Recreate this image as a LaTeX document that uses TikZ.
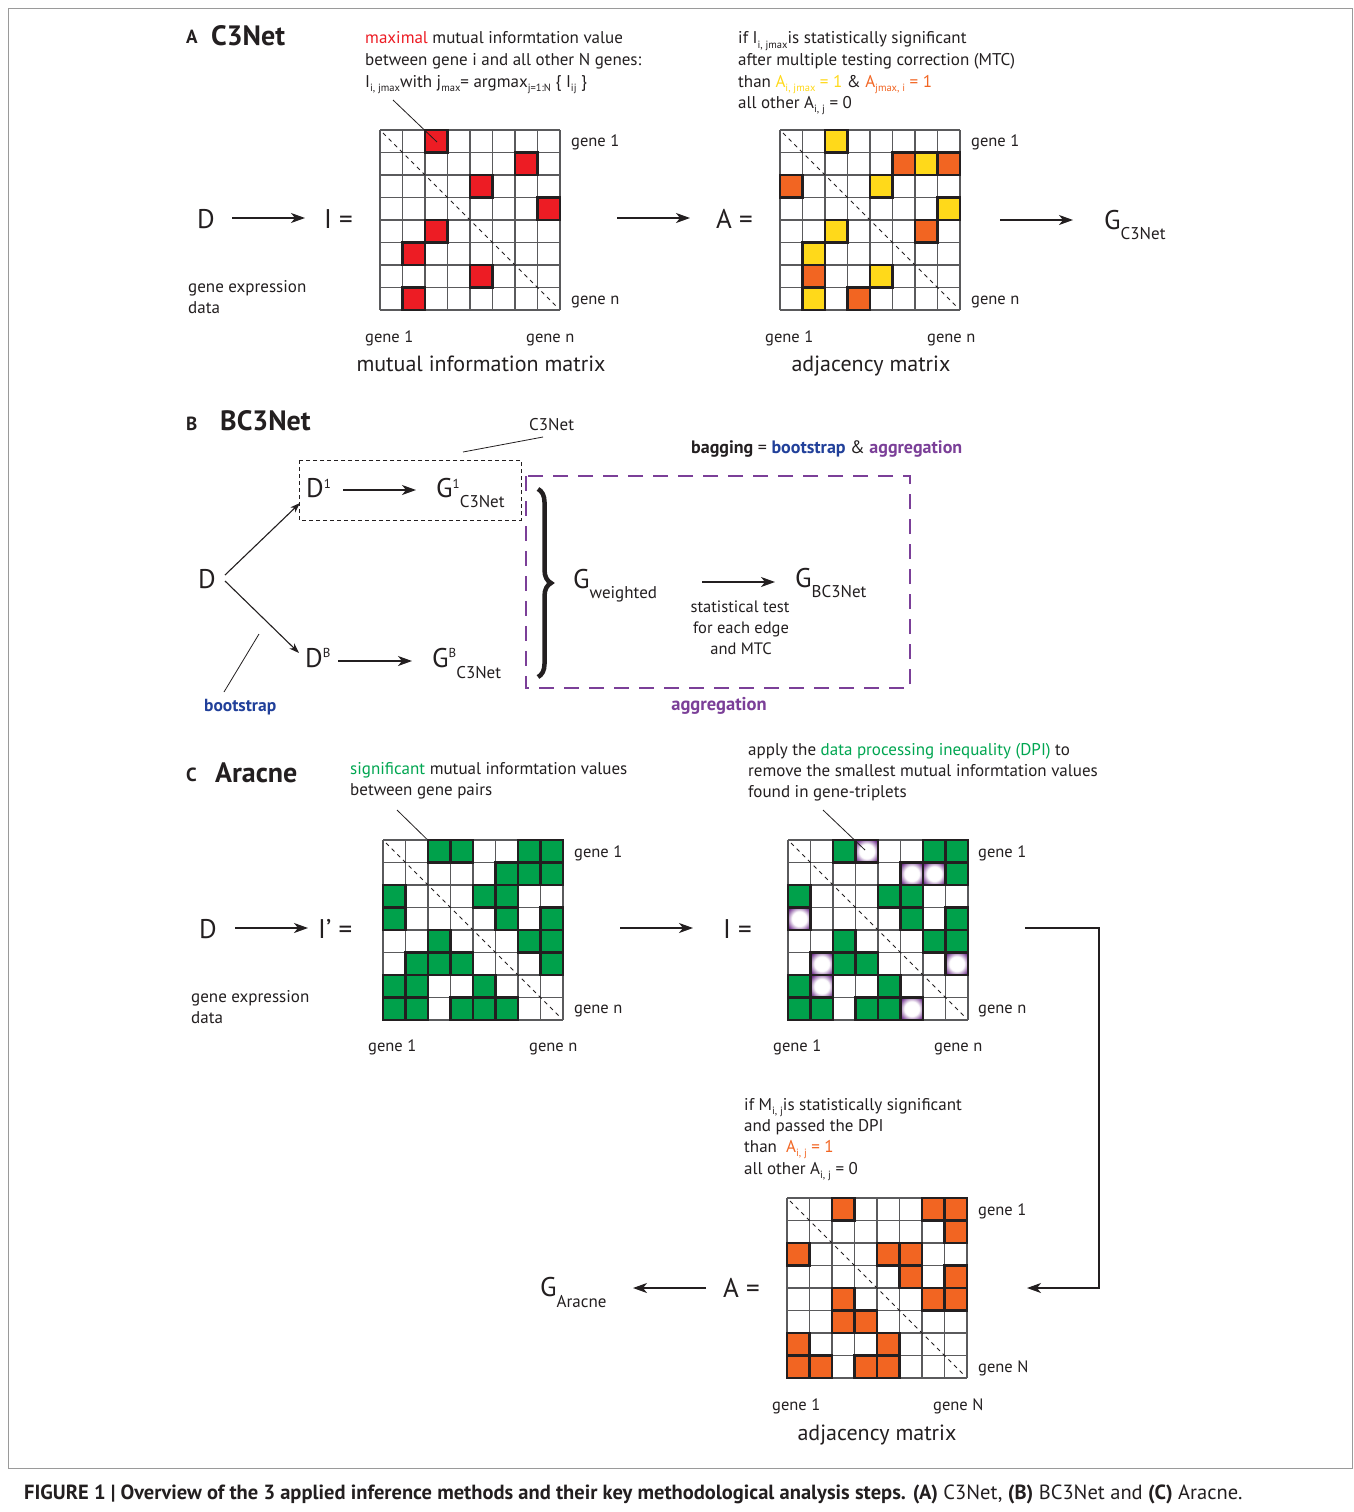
\documentclass[tikz,border=0pt]{standalone}
\usepackage{fontspec}
\setmainfont{PT Sans}
\usetikzlibrary{arrows.meta,decorations.pathreplacing}
\definecolor{mred}{HTML}{ED1C24}
\definecolor{myel}{HTML}{FFD91A}
\definecolor{morange}{HTML}{F26522}
\definecolor{mgreen}{HTML}{00A14B}
\definecolor{mpurple}{HTML}{6E2C8C}
\definecolor{aggpurple}{HTML}{7B3F98}
\definecolor{bsblue}{HTML}{21409A}
\definecolor{txtgreen}{HTML}{00A651}
\definecolor{ink}{HTML}{231F20}
\definecolor{gridc}{HTML}{5A5A5C}
\definecolor{framec}{HTML}{9A9A9A}
\pgfdeclareradialshading{dpiring}{\pgfpoint{0bp}{0bp}}{color(0bp)=(white); color(16bp)=(white); color(31bp)=(mpurple); color(50bp)=(mpurple)}
\newcommand\sbx[1]{\raisebox{-4.5pt}{\fontsize{10.5}{10.5}\selectfont #1}}
\newcommand\sbig[2][10]{\raisebox{-#1pt}{\fontsize{17}{17}\selectfont #2}}
\newcommand\spx[2][9]{\raisebox{#1pt}{\fontsize{13}{13}\selectfont #2}}
\newcommand\mgrid[2]{%
  \fill[white] (#1,#2) rectangle ++(180,180);
  \foreach \kk in {0,...,8}{%
    \draw[gridln] ({#1+\kk*22.5},#2) -- ++(0,180);
    \draw[gridln] (#1,{#2+\kk*22.5}) -- ++(180,0);
  }}
\newcommand\mcells[4]{%
  \foreach \ii/\jj in {#4}{%
    \draw[cellbd, fill=#3] ({#1+\jj*22.5},{#2+\ii*22.5}) rectangle ++(22.5,22.5);}}
\newcommand\mdpi[3]{%
  \foreach \ii/\jj in {#3}{%
    \shade[shading=dpiring] ({#1+\jj*22.5},{#2+\ii*22.5}) rectangle ++(22.5,22.5);
    \draw[cellbd] ({#1+\jj*22.5},{#2+\ii*22.5}) rectangle ++(22.5,22.5);}}
\newcommand\mdiag[2]{\draw[diagln] ({#1+3},{#2+3}) -- ({#1+177},{#2+177});}
\tikzset{
 gridln/.style={draw=gridc, line width=1.1pt},
 cellbd/.style={draw=ink, line width=2.6pt},
 diagln/.style={draw=ink, line width=0.9pt, dash pattern=on 4pt off 4pt},
 arr/.style={draw=ink, line width=1.4pt, -{Stealth[length=14pt,width=10pt,inset=4pt]}},
 ptr/.style={draw=ink, line width=0.8pt},
 txt/.style={anchor=base west, inner sep=0pt, text=ink, font=\fontsize{17}{20}\selectfont},
 gtxt/.style={txt, font=\fontsize{16.5}{20}\selectfont},
 ctxt/.style={txt, anchor=base},
 bigt/.style={txt, font=\fontsize{27}{27}\selectfont},
 hd/.style={txt, font=\fontsize{28}{28}\selectfont\bfseries},
 hdl/.style={txt, font=\fontsize{19}{19}\selectfont\bfseries},
}
\begin{document}
\begin{tikzpicture}[x=1pt,y=-1pt]
\useasboundingbox (0,0) rectangle (1354,1512);
\fill[white] (0,0) rectangle (1354,1512);
\draw[framec, line width=0.8pt] (8.5,8.5) rectangle (1352,1468);

% ================= A =================
\node[hdl] (hA) at (186,44) {A};
\node[hd] (tA) at (211,46) {C3Net};
\node[txt] (a1) at (365,44) {\textcolor{mred}{maximal} mutual informtation value};
\node[txt] (a2) at (365,66) {between gene i and all other N genes:};
\node[txt] (a3) at (365,87) {I\sbx{i, jmax}with j\sbx{max}= argmax\sbx{j=1:N} \{ I\sbx{ij} \}};
\node[txt] (b1) at (738,44) {if I\sbx{i, jmax}is statistically significant};
\node[txt] (b2) at (738,66) {after multiple testing correction (MTC)};
\node[txt] (b3) at (738,87) {than \textcolor{myel}{A\sbx{i, jmax} = 1} \& \textcolor{morange}{A\sbx{jmax, i} = 1}};
\node[txt] (b4) at (738,108) {all other A\sbx{i, j} = 0};

\node[bigt] (DA) at (197,228) {D};
\node[bigt] (IA) at (324,228) {I =};
\node[txt] (gA1) at (188,292) {gene expression};
\node[txt] (gA2) at (188,313) {data};

\mgrid{380}{130}
\mcells{380}{130}{mred}{0/2,1/6,2/4,3/7,4/2,5/1,6/4,7/1}
\mdiag{380}{130}
\node[gtxt] (m1g1) at (571,146) {gene 1};
\node[gtxt] (m1gn) at (571,304) {gene n};
\node[gtxt] (m1b1) at (365,342) {gene 1};
\node[gtxt] (m1bn) at (526,342) {gene n};
\node[ctxt, font=\fontsize{22}{22}\selectfont] (m1t) at (481,371) {mutual information matrix};
\coordinate (pA1) at (393,100);
\coordinate (pA2) at (437,142);
\draw[ptr] (pA1) -- (pA2);

\node[bigt] (AA) at (716,228) {A =};
\mgrid{780}{130}
\mcells{780}{130}{myel}{0/2,1/6,2/4,3/7,4/2,5/1,6/4,7/1}
\mcells{780}{130}{morange}{1/5,1/7,2/0,4/6,6/1,7/3}
\mdiag{780}{130}
\node[gtxt] (m2g1) at (971,146) {gene 1};
\node[gtxt] (m2gn) at (971,304) {gene n};
\node[gtxt] (m2b1) at (765,342) {gene 1};
\node[gtxt] (m2bn) at (927,342) {gene n};
\node[ctxt, font=\fontsize{22}{22}\selectfont] (m2t) at (871,371) {adjacency matrix};
\node[bigt] (GA) at (1104,229) {G\sbig{C3Net}};

\coordinate (eA1) at (232,218); \coordinate (eA2) at (305,218);
\coordinate (eA3) at (617,218); \coordinate (eA4) at (690,218);
\coordinate (eA5) at (1000,220); \coordinate (eA6) at (1073,220);
\draw[arr] (eA1) -- (eA2);
\draw[arr] (eA3) -- (eA4);
\draw[arr] (eA5) -- (eA6);

% ================= B =================
\node[hdl] (hB) at (186,430) {B};
\node[hd] (tB) at (220,430) {BC3Net};
\node[txt] (c3l) at (529,430) {C3Net};
\coordinate (pB1) at (463,452); \coordinate (pB2) at (543,437);
\draw[ptr] (pB1) -- (pB2);
\draw[ink, line width=0.9pt, dash pattern=on 4pt off 3pt] (299,460) rectangle (521,520);

\node[bigt] (DB) at (198,588) {D};
\node[bigt] (D1) at (306,497) {D\spx{1}};
\node[bigt] (G1) at (436,497) {G\spx{1}\sbig{C3Net}};
\node[bigt] (DBB) at (305,667) {D\spx[10]{B}};
\node[bigt] (GBB) at (432,667) {G\spx[10]{B}\sbig[11]{C3Net}};

\coordinate (eB0a) at (225,575); \coordinate (eB0b) at (300,503);
\coordinate (eB0c) at (225,581); \coordinate (eB0d) at (299,653);
\draw[ink, line width=1.1pt, -{Stealth[length=10pt,width=7pt,inset=3pt]}] (eB0a) -- (eB0b);
\draw[ink, line width=1.1pt, -{Stealth[length=10pt,width=7pt,inset=3pt]}] (eB0c) -- (eB0d);
\coordinate (eB1) at (343,490); \coordinate (eB2) at (416,490);
\coordinate (eB3) at (338,661); \coordinate (eB4) at (412,661);
\draw[arr] (eB1) -- (eB2);
\draw[arr] (eB3) -- (eB4);

\coordinate (pB3) at (259,634); \coordinate (pB4) at (224,692);
\draw[ptr] (pB3) -- (pB4);
\node[txt, font=\fontsize{17.5}{17.5}\selectfont\bfseries, text=bsblue] (bs) at (204,711) {bootstrap};

\draw[aggpurple, line width=2.6pt, dash pattern=on 15pt off 10pt] (526,476) rectangle (910,688);
\draw[ink, line width=4.5pt, decorate, decoration={brace, amplitude=13pt}] (538,489) -- (538,677);
\node[bigt] (Gw) at (573,588) {G\sbig{weighted}};
\coordinate (eB5) at (702,582); \coordinate (eB6) at (775,582);
\draw[arr] (eB5) -- (eB6);
\node[ctxt, font=\fontsize{16.5}{20}\selectfont] (st1) at (740,612) {statistical test};
\node[ctxt, font=\fontsize{16.5}{20}\selectfont] (st2) at (741,633) {for each edge};
\node[ctxt, font=\fontsize{16.5}{20}\selectfont] (st3) at (741,654) {and MTC};
\node[bigt] (GBC) at (795,587) {G\sbig{BC3Net}};
\node[txt, font=\fontsize{18}{18}\selectfont\bfseries] (bag) at (691,453) {bagging \textmd{=} \textcolor{bsblue}{bootstrap} \textmd{\&} \textcolor{aggpurple}{aggregation}};
\node[ctxt, font=\fontsize{18.5}{18.5}\selectfont\bfseries, text=aggpurple] (agg) at (719,710) {aggregation};

% ================= C =================
\node[hdl] (hC) at (186,781) {C};
\node[hd] (tC) at (215,782) {Aracne};
\node[txt] (c1) at (350,774) {\textcolor{txtgreen}{significant} mutual informtation values};
\node[txt] (c2) at (350,795) {between gene pairs};
\coordinate (pC1) at (397,810); \coordinate (pC2) at (440,852);
\draw[ptr] (pC1) -- (pC2);

\node[bigt] (DC) at (199,938) {D};
\node[bigt] (IpC) at (318,938) {I’ =};
\node[txt] (gC1) at (191,1002) {gene expression};
\node[txt] (gC2) at (191,1023) {data};

\mgrid{383}{840}
\mcells{383}{840}{mgreen}{0/2,0/3,0/6,0/7,1/5,1/6,1/7,2/0,2/4,2/5,3/0,3/5,3/7,4/2,4/6,4/7,5/1,5/2,5/3,5/7,6/0,6/1,6/4,7/0,7/1,7/3,7/4,7/5}
\mdiag{383}{840}
\node[gtxt] (m3g1) at (574,857) {gene 1};
\node[gtxt] (m3gn) at (574,1013) {gene n};
\node[gtxt] (m3b1) at (368,1051) {gene 1};
\node[gtxt] (m3bn) at (529,1051) {gene n};

\node[bigt] (IC) at (723,938) {I =};
\node[txt] (d1) at (748,755) {apply the \textcolor{txtgreen}{data processing inequality (DPI)} to};
\node[txt] (d2) at (748,776) {remove the smallest mutual informtation values};
\node[txt] (d3) at (748,797) {found in gene-triplets};
\coordinate (pC3) at (823,810); \coordinate (pC4) at (865,850);

\mgrid{788}{840}
\mcells{788}{840}{mgreen}{0/2,0/6,0/7,1/7,2/0,2/4,2/5,3/5,3/7,4/2,4/6,4/7,5/2,5/3,6/0,6/4,7/0,7/1,7/3,7/4}
\mdpi{788}{840}{0/3,1/5,1/6,3/0,5/1,5/7,6/1,7/5}
\mdiag{788}{840}
\draw[ptr] (pC3) -- (pC4);
\node[gtxt] (m4g1) at (978,857) {gene 1};
\node[gtxt] (m4gn) at (978,1013) {gene n};
\node[gtxt] (m4b1) at (773,1051) {gene 1};
\node[gtxt] (m4bn) at (934,1051) {gene n};

\coordinate (eC1) at (235,928); \coordinate (eC2) at (308,928);
\coordinate (eC3) at (620,928); \coordinate (eC4) at (693,928);
\draw[arr] (eC1) -- (eC2);
\draw[arr] (eC3) -- (eC4);
\coordinate (eC5) at (1025,928); \coordinate (eC6) at (1099,928);
\coordinate (eC7) at (1099,1288); \coordinate (eC8) at (1027,1288);
\draw[arr] (eC5) -- (eC6) -- (eC7) -- (eC8);

\node[txt] (f1) at (744,1110) {if M\sbx{i, j}is statistically significant};
\node[txt] (f2) at (744,1131) {and passed the DPI};
\node[txt] (f3) at (744,1152) {than \ \textcolor{morange}{A\sbx{i, j} = 1}};
\node[txt] (f4) at (744,1174) {all other A\sbx{i, j} = 0};

\mgrid{787}{1198}
\mcells{787}{1198}{morange}{0/2,0/6,0/7,1/7,2/0,2/4,2/5,3/5,3/7,4/2,4/6,4/7,5/2,5/3,6/0,6/4,7/0,7/1,7/3,7/4}
\mdiag{787}{1198}
\node[gtxt] (m5g1) at (978,1215) {gene 1};
\node[gtxt] (m5gn) at (978,1372) {gene N};
\node[gtxt] (m5b1) at (772,1410) {gene 1};
\node[gtxt] (m5bn) at (933,1410) {gene N};
\node[ctxt, font=\fontsize{22}{22}\selectfont] (m5t) at (877,1440) {adjacency matrix};

\node[bigt] (AC) at (723,1297) {A =};
\coordinate (eC9) at (706,1288); \coordinate (eC10) at (633,1288);
\draw[arr] (eC9) -- (eC10);
\node[bigt] (GAr) at (540,1296) {G\sbig[11]{Aracne}};

% caption
\node[txt, font=\fontsize{20.5}{20.5}\selectfont] (cap) at (24,1499) {\textbf{FIGURE 1 | Overview of the 3 applied inference methods and their key methodological analysis steps. (A)} C3Net, \textbf{(B)} BC3Net and \textbf{(C)} Aracne.};
\end{tikzpicture}
\end{document}
